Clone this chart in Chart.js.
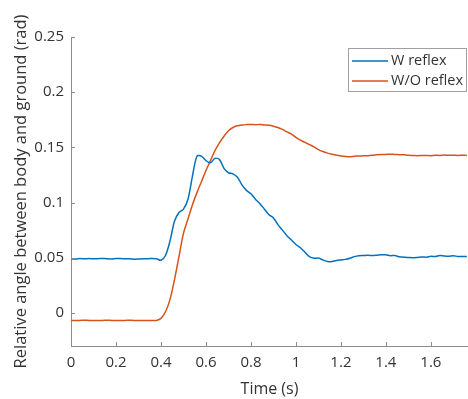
<!DOCTYPE html>
<html>
<head>
<meta charset="utf-8">
<script src="https://cdn.jsdelivr.net/npm/chart.js@4.4.1/dist/chart.umd.min.js"></script>
<style>
  html, body { margin: 0; padding: 0; background: #fff; }
  #wrap { width: 468px; height: 399px; }
</style>
</head>
<body>
<div id="wrap"><canvas id="chart" width="468" height="399"></canvas></div>
<script>
// time base (s)
const time = [
  0.00, 0.02, 0.04, 0.06, 0.08, 0.10, 0.12, 0.14, 0.16, 0.18,
  0.20, 0.22, 0.24, 0.26, 0.28, 0.30, 0.32, 0.34, 0.36, 0.38,
  0.40, 0.42, 0.44, 0.46, 0.48, 0.50, 0.52, 0.54, 0.56, 0.58,
  0.60, 0.62, 0.64, 0.66, 0.68, 0.70, 0.72, 0.74, 0.76, 0.78,
  0.80, 0.82, 0.84, 0.86, 0.88, 0.90, 0.92, 0.94, 0.96, 0.98,
  1.00, 1.02, 1.04, 1.06, 1.08, 1.10, 1.12, 1.14, 1.16, 1.18,
  1.20, 1.22, 1.24, 1.26, 1.28, 1.30, 1.32, 1.34, 1.36, 1.38,
  1.40, 1.42, 1.44, 1.46, 1.48, 1.50, 1.52, 1.54, 1.56, 1.58,
  1.60, 1.62, 1.64, 1.66, 1.68, 1.70, 1.72, 1.74, 1.76
];

// W reflex
const withReflex = [
  0.0490, 0.0488, 0.0492, 0.0490, 0.0493, 0.0490, 0.0491, 0.0494, 0.0490, 0.0489,
  0.0492, 0.0493, 0.0490, 0.0490, 0.0487, 0.0488, 0.0491, 0.0490, 0.0494, 0.0490,
  0.0477, 0.0520, 0.0650, 0.0830, 0.0910, 0.0940, 0.1030, 0.1240, 0.1420, 0.1420,
  0.1380, 0.1360, 0.1400, 0.1390, 0.1310, 0.1270, 0.1260, 0.1230, 0.1160, 0.1110,
  0.1080, 0.1030, 0.0990, 0.0940, 0.0890, 0.0860, 0.0800, 0.0750, 0.0700, 0.0660,
  0.0620, 0.0590, 0.0550, 0.0510, 0.0495, 0.0497, 0.0480, 0.0465, 0.0466, 0.0475,
  0.0480, 0.0485, 0.0495, 0.0510, 0.0518, 0.0520, 0.0522, 0.0520, 0.0523, 0.0527,
  0.0526, 0.0518, 0.0520, 0.0508, 0.0505, 0.0502, 0.0500, 0.0503, 0.0507, 0.0505,
  0.0513, 0.0510, 0.0520, 0.0516, 0.0514, 0.0517, 0.0512, 0.0511, 0.0510
];

// W/O reflex
const withoutReflex = [
  -0.0068, -0.0069, -0.0068, -0.0067, -0.0068, -0.0069, -0.0068, -0.0068, -0.0067, -0.0068,
  -0.0069, -0.0068, -0.0068, -0.0067, -0.0068, -0.0068, -0.0069, -0.0068, -0.0068, -0.0068,
  -0.0050, 0.0010, 0.0120, 0.0300, 0.0510, 0.0720, 0.0850, 0.0980, 0.1090, 0.1190,
  0.1290, 0.1380, 0.1470, 0.1540, 0.1600, 0.1650, 0.1680, 0.1695, 0.1702, 0.1706,
  0.1708, 0.1705, 0.1707, 0.1703, 0.1700, 0.1692, 0.1680, 0.1663, 0.1640, 0.1620,
  0.1590, 0.1565, 0.1545, 0.1525, 0.1505, 0.1480, 0.1462, 0.1448, 0.1437, 0.1428,
  0.1422, 0.1418, 0.1416, 0.1420, 0.1421, 0.1424, 0.1425, 0.1428, 0.1432, 0.1435,
  0.1436, 0.1438, 0.1436, 0.1434, 0.1432, 0.1428, 0.1426, 0.1424, 0.1426, 0.1427,
  0.1425, 0.1428, 0.1427, 0.1430, 0.1428, 0.1429, 0.1427, 0.1428, 0.1427
];

const xTicks = [0, 0.2, 0.4, 0.6, 0.8, 1, 1.2, 1.4, 1.6];
const yTicks = [0, 0.05, 0.1, 0.15, 0.2, 0.25];

const FONT = "'Open Sans', 'Noto Sans', sans-serif";
const axisColor = '#8c8c8c';
const textColor = '#333333';

const toPoints = (ys) => ys.map((y, i) => ({ x: time[i], y: y }));

// MATLAB style inward ticks + boxed legend
const matlabBits = {
  id: 'matlabBits',
  afterDraw(chart) {
    const ctx = chart.ctx;
    const area = chart.chartArea;
    const xs = chart.scales.x, ys = chart.scales.y;
    ctx.save();
    ctx.strokeStyle = axisColor;
    ctx.lineWidth = 1;
    ctx.beginPath();
    xTicks.forEach(v => {
      const px = Math.round(xs.getPixelForValue(v)) + 0.5;
      ctx.moveTo(px, area.bottom);
      ctx.lineTo(px, area.bottom - 4);
    });
    yTicks.forEach(v => {
      const py = Math.round(ys.getPixelForValue(v)) + 0.5;
      ctx.moveTo(area.left, py);
      ctx.lineTo(area.left + 4, py);
    });
    ctx.stroke();

    // legend
    const lx = 348.5, ly = 48.5, lw = 118, lh = 43;
    ctx.fillStyle = '#ffffff';
    ctx.fillRect(lx, ly, lw, lh);
    ctx.strokeStyle = '#a0a0a0';
    ctx.strokeRect(lx, ly, lw, lh);
    ctx.font = '14.5px ' + FONT;
    ctx.textBaseline = 'middle';
    chart.data.datasets.forEach((ds, i) => {
      const cy = 61 + i * 20;
      ctx.strokeStyle = ds.borderColor;
      ctx.lineWidth = 1.5;
      ctx.beginPath();
      ctx.moveTo(352, cy);
      ctx.lineTo(388, cy);
      ctx.stroke();
      ctx.fillStyle = textColor;
      ctx.fillText(ds.label, 391, cy);
    });
    ctx.restore();
  }
};

new Chart(document.getElementById('chart'), {
  type: 'line',
  data: {
    datasets: [
      {
        label: 'W reflex',
        data: toPoints(withReflex),
        borderColor: '#0072BD',
        borderWidth: 1.5,
        pointRadius: 0,
        tension: 0.3,
        fill: false
      },
      {
        label: 'W/O reflex',
        data: toPoints(withoutReflex),
        borderColor: '#D95319',
        borderWidth: 1.5,
        pointRadius: 0,
        tension: 0.3,
        fill: false
      }
    ]
  },
  options: {
    responsive: false,
    animation: false,
    layout: { padding: { top: 37, right: 0, left: 0, bottom: 0 } },
    plugins: {
      legend: { display: false },
      tooltip: { enabled: false }
    },
    scales: {
      x: {
        type: 'linear',
        min: 0,
        max: 1.765,
        afterBuildTicks: (scale) => { scale.ticks = xTicks.map(v => ({ value: v })); },
        afterFit: (scale) => { scale.height = 53; },
        grid: { display: false, drawTicks: false },
        border: { display: true, color: axisColor, width: 1 },
        ticks: {
          color: textColor,
          font: { family: FONT, size: 15 },
          padding: 8,
          maxRotation: 0,
          callback: (v) => String(+Number(v).toFixed(2))
        },
        title: {
          display: true,
          text: 'Time (s)',
          color: textColor,
          font: { family: FONT, size: 16 },
          padding: { top: 1, bottom: 0 }
        }
      },
      y: {
        type: 'linear',
        min: -0.03,
        max: 0.25,
        afterBuildTicks: (scale) => { scale.ticks = yTicks.map(v => ({ value: v })); },
        afterFit: (scale) => { scale.width = 71; },
        grid: { display: false, drawTicks: false },
        border: { display: true, color: axisColor, width: 1 },
        ticks: {
          color: textColor,
          font: { family: FONT, size: 15 },
          padding: 7,
          callback: (v) => String(+Number(v).toFixed(2))
        },
        title: {
          display: true,
          text: 'Relative angle between body and ground (rad)',
          color: textColor,
          font: { family: FONT, size: 16.5 },
          padding: { top: 11, bottom: 0 }
        }
      }
    }
  },
  plugins: [matlabBits]
});
</script>
</body>
</html>
